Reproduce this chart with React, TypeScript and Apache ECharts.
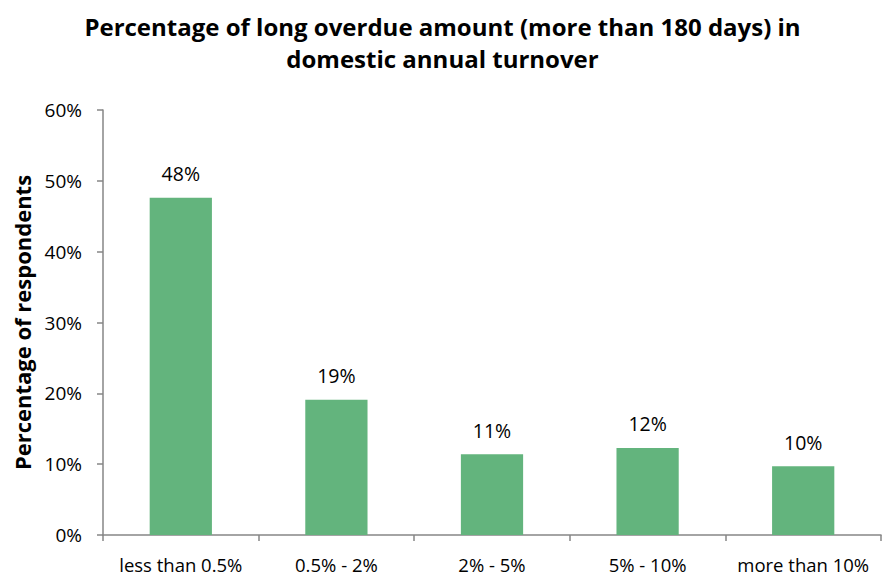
import React, { useEffect, useRef } from "react";
import * as echarts from "echarts";

const titleText = "Percentage of long overdue amount (more than 180 days) in\ndomestic annual turnover";
const yAxisName = "Percentage of respondents";
const categories = ["less than 0.5%", "0.5% - 2%", "2% - 5%", "5% - 10%", "more than 10%"];
const values = [47.6, 19.1, 11.4, 12.3, 9.7];
const yTicks = { min: 0, max: 60, interval: 10 };

const FONT = "'Open Sans', sans-serif";

export default function App() {
  const ref = useRef<HTMLDivElement>(null);
  useEffect(() => {
    if (!ref.current) return;
    const chart = echarts.init(ref.current, undefined, { renderer: "svg" });
    chart.setOption({
      animation: false,
      backgroundColor: "#ffffff",
      title: {
        text: titleText,
        left: "center",
        top: 5,
        textStyle: {
          fontFamily: FONT,
          fontSize: 24,
          fontWeight: "bold",
          color: "#000",
          lineHeight: 32,
        },
      },
      grid: { left: 103, right: 4, top: 110, bottom: 43, containLabel: false },
      xAxis: {
        type: "category",
        data: categories,
        axisLine: { show: true, lineStyle: { color: "#868686", width: 1.5 } },
        axisTick: { show: true, length: 6, lineStyle: { color: "#868686", width: 1.5 } },
        axisLabel: { color: "#000", fontFamily: FONT, fontSize: 18.5, margin: 20, interval: 0, hideOverlap: false },
        splitLine: { show: false },
      },
      yAxis: {
        type: "value",
        min: yTicks.min,
        max: yTicks.max,
        interval: yTicks.interval,
        name: yAxisName,
        nameLocation: "middle",
        nameGap: 70,
        nameRotate: 90,
        nameTextStyle: { fontFamily: FONT, fontSize: 22, fontWeight: "bold", color: "#000" },
        axisLine: { show: true, lineStyle: { color: "#868686", width: 1.5 } },
        axisTick: { show: true, length: 6, lineStyle: { color: "#868686", width: 1.5 } },
        axisLabel: { color: "#000", fontFamily: FONT, fontSize: 19, margin: 21, formatter: (v: number) => v + "%" },
        splitLine: { show: false },
      },
      series: [
        {
          type: "bar",
          data: values,
          barWidth: "40%",
          itemStyle: { color: "#63B47D" },
          label: {
            show: true,
            position: "top",
            distance: 14,
            color: "#000",
            fontFamily: FONT,
            fontSize: 19.5,
            formatter: (p: any) => Math.round(p.value) + "%",
          },
        },
      ],
    });
    return () => chart.dispose();
  }, []);
  return (
    <div
      ref={ref}
      style={{ position: "fixed", left: 0, top: 0, width: 885, height: 578, background: "#fff" }}
    />
  );
}
